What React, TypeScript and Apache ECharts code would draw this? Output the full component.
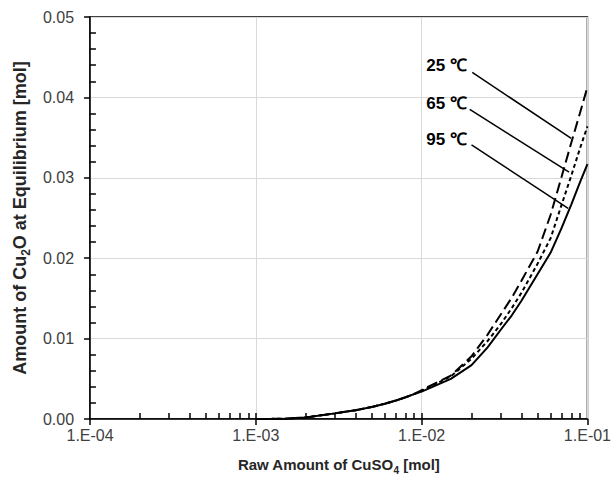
import { useEffect, useRef } from "react";
import * as echarts from "echarts";

// Raw CuSO4 amounts [mol] at which the equilibrium was evaluated
const rawCuSO4 = [
  0.001, 0.0015, 0.002, 0.003, 0.004, 0.005, 0.006, 0.007, 0.008, 0.009, 0.01,
  0.015, 0.02, 0.025, 0.03, 0.035, 0.04, 0.05, 0.06, 0.07, 0.08, 0.09, 0.1,
];

// Cu2O at equilibrium [mol] for each temperature
const cu2o25C = [
  0, 0.00003, 0.0002, 0.0007, 0.0011, 0.0015, 0.0019, 0.0023, 0.0027, 0.0031, 0.0036,
  0.0054, 0.0078, 0.0105, 0.013, 0.0151, 0.0172, 0.0208, 0.0254, 0.0302, 0.0344, 0.038, 0.0413,
];
const cu2o65C = [
  0, 0.00003, 0.0002, 0.0007, 0.0011, 0.0015, 0.0019, 0.0023, 0.0027, 0.0031, 0.0035,
  0.0053, 0.0075, 0.0097, 0.0118, 0.0138, 0.0157, 0.0193, 0.0225, 0.0267, 0.0303, 0.0336, 0.0364,
];
const cu2o95C = [
  0, 0.00003, 0.0002, 0.0007, 0.0011, 0.0015, 0.0019, 0.0023, 0.0027, 0.0031, 0.0034,
  0.005, 0.0067, 0.0089, 0.0111, 0.0129, 0.0147, 0.018, 0.0207, 0.0238, 0.0267, 0.0294, 0.0317,
];

const seriesNames = ["25 ℃", "65 ℃", "95 ℃"];
const xTickLabels = ["1.E-04", "1.E-03", "1.E-02", "1.E-01"];
const yTickLabels = ["0.00", "0.01", "0.02", "0.03", "0.04", "0.05"];

// Callout anchors, in data units: label centre, arrow tail, arrow head
const callouts = [
  { label: [0.01415, 0.044], from: [0.0202, 0.0431], to: [0.0799, 0.0349] },
  { label: [0.01415, 0.0393], from: [0.0195, 0.0385], to: [0.0775, 0.0307] },
  { label: [0.01415, 0.0348], from: [0.02, 0.0341], to: [0.0765, 0.0262] },
];

const FONT = "Arial, 'Liberation Sans', sans-serif";

const X_MIN = 0.0001;
const X_MAX = 0.1;
const Y_MAX = 0.05;

export default function App() {
  const ref = useRef<HTMLDivElement>(null);

  useEffect(() => {
    document.body.style.margin = "0";
    if (!ref.current) return;
    const chart = echarts.init(ref.current, undefined, { renderer: "svg" });

    const gridTop = 17;
    const gridBottom = 58;
    const gridLeft = 85;
    const gridRight = 22;
    const plotH = 480 - gridTop - gridBottom;
    const plotW = 614 - gridLeft - gridRight;
    const tickPx = 6;
    // tick length converted to axis units so the marks follow the scales
    const yTickLen = (Y_MAX / plotH) * tickPx;
    const xTickEnd = X_MIN * Math.pow(10, (Math.log10(X_MAX / X_MIN) / plotW) * tickPx);

    const curves = [cu2o25C, cu2o65C, cu2o95C];
    const dashes: any[] = [[11, 5], [4, 3], "solid"];

    // inward ticks: 2..9 within each decade, plus the inner half of the majors
    const tickSegments: any[] = [];
    for (let e = -4; e <= -2; e++) {
      for (let m = 1; m <= 9; m++) {
        if (e === -4 && m === 1) continue;
        const x = m * Math.pow(10, e);
        tickSegments.push([{ coord: [x, 0] }, { coord: [x, yTickLen] }]);
      }
    }
    for (let i = 1; i < 25; i++) {
      if (i % 5 === 0) continue;
      const v = i * 0.002;
      tickSegments.push([{ coord: [X_MIN, v] }, { coord: [xTickEnd, v] }]);
    }

    const lineSeries = curves.map((vals, i) => ({
      name: seriesNames[i],
      type: "line",
      data: rawCuSO4.map((x, j) => [x, vals[j]]),
      showSymbol: false,
      symbol: "none",
      smooth: false,
      z: 5,
      lineStyle: { color: "#000", width: 2, type: dashes[i] },
      markPoint: {
        silent: true,
        symbol: "circle",
        symbolSize: 0,
        itemStyle: { color: "transparent" },
        label: {
          show: true,
          position: "inside",
          formatter: seriesNames[i],
          fontFamily: FONT,
          fontWeight: "bold",
          fontSize: 17,
          color: "#000",
        },
        data: [{ coord: callouts[i].label, value: 0 }],
      },
      markLine: {
        silent: true,
        symbol: ["none", "arrow"],
        symbolSize: [0, 10],
        label: { show: false },
        lineStyle: { color: "#000", width: 1.5, type: "solid" },
        data: [[{ coord: callouts[i].from }, { coord: callouts[i].to }]],
      },
    }));

    const richSub = (size: number) => ({
      s: {
        fontFamily: FONT,
        fontWeight: "bold",
        fontSize: Math.round(size * 0.65),
        color: "#262626",
        verticalAlign: "bottom",
        lineHeight: size + 6,
      },
    });

    chart.setOption({
      animation: false,
      grid: {
        left: gridLeft,
        right: gridRight,
        top: gridTop,
        bottom: gridBottom,
        show: true,
        borderColor: "#000",
        borderWidth: 1.5,
        backgroundColor: "transparent",
      },
      xAxis: {
        type: "log",
        logBase: 10,
        min: X_MIN,
        max: X_MAX,
        splitNumber: 3,
        axisLine: { lineStyle: { color: "#000", width: 1.5 } },
        axisTick: { show: true, length: tickPx, lineStyle: { color: "#000", width: 1.5 } },
        axisLabel: {
          margin: 8,
          fontFamily: FONT,
          fontSize: 16,
          color: "#404040",
          formatter: (v: number) => xTickLabels[Math.round(Math.log10(v)) + 4],
        },
        splitLine: { show: true, lineStyle: { color: "#d9d9d9", width: 1 } },
        name: "Raw Amount of CuSO{s|4} [mol]",
        nameLocation: "middle",
        nameGap: 35,
        nameTextStyle: {
          fontFamily: FONT,
          fontWeight: "bold",
          fontSize: 15,
          color: "#262626",
          lineHeight: 21,
          rich: richSub(15),
        },
      },
      yAxis: {
        type: "value",
        min: 0,
        max: Y_MAX,
        interval: 0.01,
        axisLine: { show: true, lineStyle: { color: "#000", width: 1.5 } },
        axisTick: { show: true, length: tickPx, lineStyle: { color: "#000", width: 1.5 } },
        axisLabel: {
          margin: 16,
          fontFamily: FONT,
          fontSize: 16,
          color: "#404040",
          formatter: (v: number) => yTickLabels[Math.round(v * 100)],
        },
        splitLine: { show: true, lineStyle: { color: "#d9d9d9", width: 1 } },
        name: "Amount of Cu{s|2}O at Equilibrium [mol]",
        nameLocation: "middle",
        nameGap: 53,
        nameTextStyle: {
          fontFamily: FONT,
          fontWeight: "bold",
          fontSize: 18,
          color: "#262626",
          lineHeight: 24,
          rich: richSub(18),
        },
      },
      series: [
        ...lineSeries,
        {
          // carrier for the inward minor ticks
          type: "line",
          silent: true,
          data: [[X_MIN, 0]],
          symbol: "none",
          lineStyle: { opacity: 0 },
          z: 3,
          markLine: {
            silent: true,
            symbol: ["none", "none"],
            label: { show: false },
            lineStyle: { color: "#000", width: 1.5, type: "solid" },
            data: tickSegments,
          },
        },
      ],
    });

    return () => chart.dispose();
  }, []);

  return <div ref={ref} style={{ width: 614, height: 480 }} />;
}
